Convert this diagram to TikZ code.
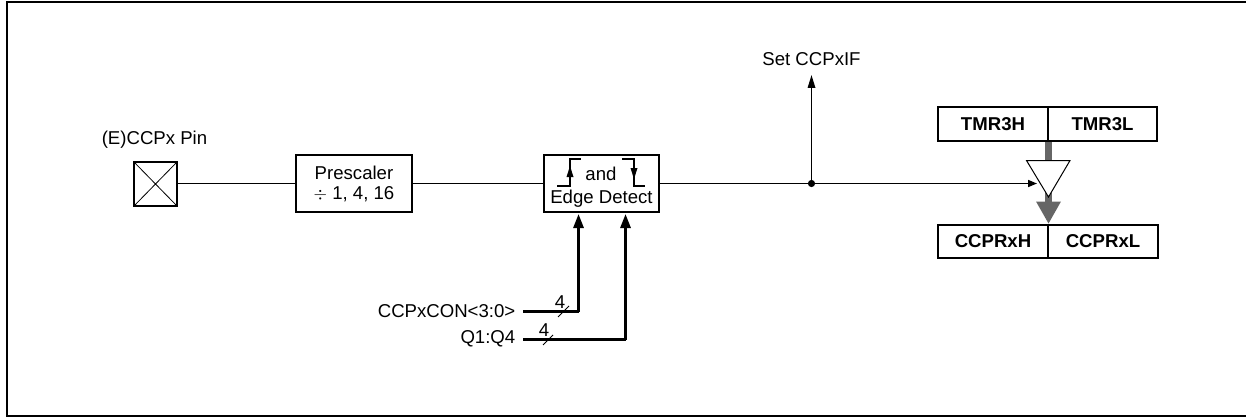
\documentclass[tikz,border=0pt]{standalone}
\usepackage{fontspec}
\setmainfont{Liberation Sans}
\usetikzlibrary{arrows.meta}
\tikzset{
  every node/.style={font=\fontsize{18.6}{20}\selectfont,inner sep=0pt},
  blk/.style={draw,line width=1.7pt,fill=white,align=center,inner sep=0pt},
  reg/.style={draw,line width=1.7pt,font=\fontsize{18.6}{20}\selectfont\bfseries,inner sep=0pt},
  sig/.style={line width=1.6pt},
  thinsig/.style={line width=1.6pt,-{Stealth[length=13pt,width=7.5pt,inset=0pt]}},
  bus/.style={line width=2.8pt,-{Stealth[length=14pt,width=10pt,inset=0pt]}},
  busline/.style={line width=2.8pt},
  slash/.style={line width=0.9pt},
  graybus/.style={color=gray!80!black,fill=gray!80!black},
}
\begin{document}
\begin{tikzpicture}[x=1pt,y=-1pt]
\useasboundingbox (0,0) rectangle (1246,417);
\coordinate (ftr) at (1246,2.5); \coordinate (ftl) at (7,2.5);
\coordinate (fbl) at (7,415.5); \coordinate (fbr) at (1246,415.5);
\draw[line width=2pt] (ftr) -- (ftl) -- (fbl) -- (fbr);
% pin
\node[draw,line width=1.4pt,minimum width=43pt,minimum height=44pt] (pin) at (155.5,184) {};
\draw[line width=0.8pt] (pin.north west) -- (pin.south east) (pin.north east) -- (pin.south west);
\node (pinlabel) at (154.5,140) {(E)CCPx Pin};
% blocks
\node[blk,minimum width=116pt,minimum height=57pt] (pre) at (354,183.5) {};
\node (pretext) at (354,172.5) {Prescaler};
\node (pretextb) at (354,194) {$\div$ 1, 4, 16};
\node[blk,minimum width=115pt,minimum height=57pt] (edge) at (601.5,183.5) {};
\node (and) at (601,174) {and};
\node (detect) at (601.5,198.5) {Edge Detect};
% edge glyphs
\coordinate (r0) at (557,186); \coordinate (r1) at (570,186); \coordinate (r2) at (570,159); \coordinate (r3) at (581,159);
\draw[sig] (r0) -- (r1) -- (r2) -- (r3);
\fill (570,166) -- (573.5,177) -- (566.5,177) -- cycle;
\coordinate (f0) at (622,159); \coordinate (f1) at (634,159); \coordinate (f2) at (634,186); \coordinate (f3) at (645,186);
\draw[sig] (f0) -- (f1) -- (f2) -- (f3);
\fill (634,179) -- (637.5,168) -- (630.5,168) -- cycle;
% registers
\node[reg,minimum width=110pt,minimum height=34pt] (t3h) at (993,124) {TMR3H};
\node[reg,minimum width=109pt,minimum height=34pt] (t3l) at (1102.5,124) {TMR3L};
\node[reg,minimum width=110pt,minimum height=33pt] (ch) at (993,241.5) {CCPRxH};
\node[reg,minimum width=110pt,minimum height=33pt] (cl) at (1103,241.5) {CCPRxL};
% gray buses
\fill[graybus] (1045,141.5) rectangle (1052,161);
\fill[graybus] (1045,190) rectangle (1052,203);
\fill[graybus] (1036,201.5) -- (1061,201.5) -- (1048.5,223.5) -- cycle;
% buffer
\draw[line width=1pt,fill=white] (1026.5,160.5) -- (1070,160.5) -- (1048.5,197) -- cycle;
\coordinate (bufin) at (1037,183.5);
% connectors
\coordinate (junction) at (811.5,183.5);
\coordinate (setif) at (811.5,75);
\draw[sig] (pin.east |- 0,183.5) -- (pre.west |- 0,183.5);
\draw[sig] (pre.east |- 0,183.5) -- (edge.west |- 0,183.5);
\draw[sig] (edge.east |- 0,183.5) -- (junction);
\draw[sig,-{Stealth[length=9pt,width=7pt,inset=0pt]}] (junction) -- (bufin);
\draw[thinsig] (junction) -- (setif);
\fill (junction) circle (3.6pt);
\node (setlabel) at (811.5,59.5) {Set CCPxIF};
% inputs
\node[anchor=east] (con) at (515.5,311) {CCPxCON<3:0>};
\node[anchor=east] (q) at (515.5,339) {Q1:Q4};
\coordinate (c0) at (523,311.5); \coordinate (c1) at (578.5,311.5);
\coordinate (q0) at (523,339.5); \coordinate (q1) at (625.5,339.5);
\draw[busline] (c0) -- (c1);
\draw[bus] (c1) -- (578.5,214);
\draw[busline] (q0) -- (q1);
\draw[bus] (q1) -- (625.5,214);
\draw[slash] (558,317) -- (569,306);
\draw[slash] (543,345) -- (553,335);
\node (n1) at (560,302) {4};
\node (n2) at (544,330) {4};
\end{tikzpicture}
\end{document}
